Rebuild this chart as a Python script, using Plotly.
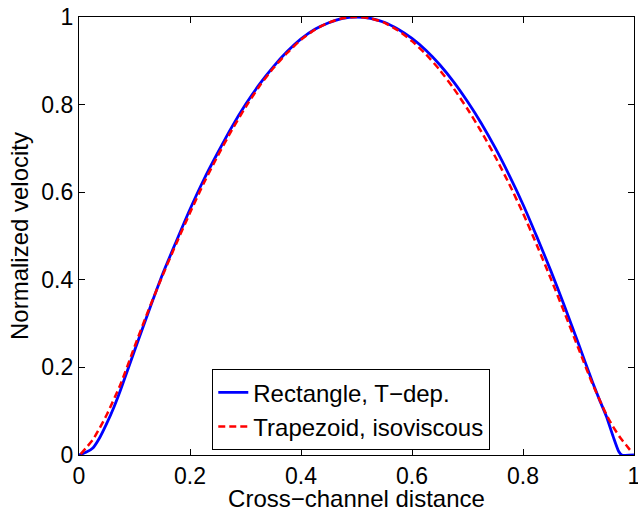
import plotly.graph_objects as go

# Rectangle, T-dep. (blue solid)
x_rect = [0, 0.0125, 0.025, 0.0375, 0.05, 0.0625, 0.075, 0.1, 0.125, 0.15, 0.175, 0.2,
          0.225, 0.25, 0.275, 0.3, 0.325, 0.35, 0.375, 0.4, 0.425, 0.45, 0.475, 0.5,
          0.525, 0.55, 0.575, 0.6, 0.625, 0.65, 0.675, 0.7, 0.725, 0.75, 0.775, 0.8,
          0.825, 0.85, 0.875, 0.9, 0.925, 0.9375, 0.95, 0.9625, 0.9725, 0.978, 1.0]
v_rect = [0, 0.006, 0.016, 0.040, 0.072, 0.108, 0.149, 0.238, 0.326, 0.411, 0.487, 0.561,
          0.629, 0.690, 0.748, 0.800, 0.846, 0.886, 0.921, 0.950, 0.972, 0.987, 0.997, 1.0,
          0.997, 0.988, 0.972, 0.951, 0.924, 0.891, 0.852, 0.807, 0.757, 0.701, 0.639, 0.572,
          0.498, 0.421, 0.339, 0.254, 0.167, 0.127, 0.089, 0.042, 0.008, 0.0, 0.0]

# Trapezoid, isoviscous (red dashed)
x_trap = [0.003, 0.0125, 0.025, 0.0375, 0.05, 0.075, 0.1, 0.125, 0.15, 0.175, 0.2, 0.225,
          0.25, 0.275, 0.3, 0.325, 0.35, 0.375, 0.4, 0.425, 0.45, 0.475, 0.5, 0.525, 0.55,
          0.575, 0.6, 0.625, 0.65, 0.675, 0.7, 0.725, 0.75, 0.775, 0.8, 0.825, 0.85, 0.875,
          0.9, 0.925, 0.95, 0.9625, 0.975, 0.9875, 0.995]
v_trap = [0.002, 0.016, 0.035, 0.062, 0.092, 0.162, 0.247, 0.330, 0.408, 0.482, 0.553, 0.621,
          0.683, 0.741, 0.794, 0.842, 0.883, 0.918, 0.948, 0.971, 0.987, 0.997, 1.0, 0.997, 0.987,
          0.969, 0.945, 0.915, 0.879, 0.837, 0.790, 0.738, 0.681, 0.619, 0.552, 0.479, 0.403, 0.324,
          0.243, 0.163, 0.093, 0.064, 0.040, 0.020, 0.008]

tick_vals = [0, 0.2, 0.4, 0.6, 0.8, 1]
tick_text = ["0", "0.2", "0.4", "0.6", "0.8", "1"]

FONT = "Liberation Sans, Arial, Helvetica, sans-serif"
FS = 23

fig = go.Figure()
fig.add_trace(go.Scatter(x=x_rect, y=v_rect, mode="lines", name="Rectangle, T\u2212dep.",
                         line=dict(color="#0000ff", width=2.8, shape="spline", smoothing=0.6)))
fig.add_trace(go.Scatter(x=x_trap, y=v_trap, mode="lines", name="Trapezoid, isoviscous",
                         line=dict(color="#ff0000", width=2.5, dash="7px,4px",
                                   shape="spline", smoothing=0.6)))

axis_common = dict(
    range=[0, 1], tickvals=tick_vals, ticktext=tick_text,
    ticks="inside", ticklen=6, tickwidth=1, tickcolor="black",
    showline=True, linecolor="black", linewidth=1.3, mirror="ticks",
    showgrid=False, zeroline=False, ticklabeloverflow="allow",
    tickfont=dict(family=FONT, size=FS, color="black"),
)

fig.update_layout(
    width=638, height=512,
    margin=dict(l=79, r=4, t=17, b=57),
    paper_bgcolor="white", plot_bgcolor="white",
    font=dict(family=FONT, color="black"),
    showlegend=True,
    legend=dict(x=0.2396, y=0.0114, xanchor="left", yanchor="bottom",
                bgcolor="white", bordercolor="black", borderwidth=1.3,
                font=dict(family=FONT, size=24, color="black"),
                tracegroupgap=0, itemwidth=30),
)
fig.update_xaxes(**axis_common, automargin=False,
                 title=dict(text="Cross\u2212channel distance",
                            font=dict(family=FONT, size=24), standoff=1))
fig.update_yaxes(**axis_common, automargin=False,
                 title=dict(text="Normalized velocity",
                            font=dict(family=FONT, size=24), standoff=5))

fig.write_html("out.html")
